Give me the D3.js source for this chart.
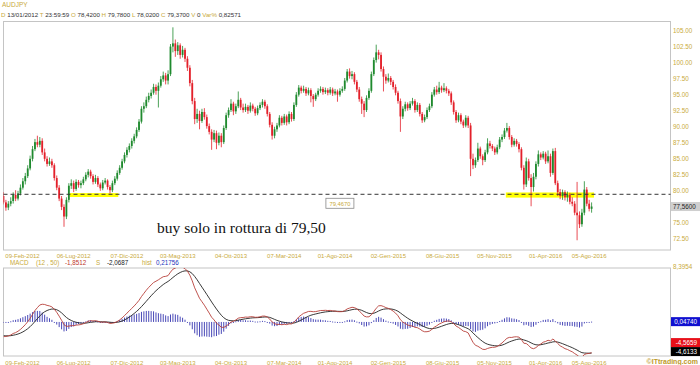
<!DOCTYPE html>
<html><head><meta charset="utf-8">
<script src="https://cdn.jsdelivr.net/npm/d3@7"></script>
<style>
body{margin:0;background:#fff}
svg{display:block}
text{font-family:"Liberation Sans",Arial,sans-serif}
</style>
</head><body>
<svg id="c" width="700" height="365"></svg>
<script>
// ---------- DATA (weekly AUDJPY candles) ----------
const firstWeek = "2011-12-16";
const open = [79.2,78.2,77.4,78.0,78.42,79.37,78.8,79.6,80.5,81.5,82.3,83.5,85.0,86.5,87.6,87.2,87.8,86.0,85.0,84.2,84.6,84.0,82.0,80.5,78.8,77.5,76.0,78.6,80.8,81.2,80.3,81.4,80.9,81.2,81.8,82.5,83.0,82.3,81.4,82.0,81.0,80.4,81.3,81.6,80.6,80.1,81.2,81.9,82.8,83.6,84.6,85.6,86.4,87.0,87.8,88.5,89.5,90.8,92.8,93.2,94.2,94.8,95.3,96.2,95.6,96.4,97.4,98.0,97.2,98.2,102.5,103.0,101.8,102.7,101.2,102.0,100.6,99.2,96.8,94.0,91.2,92.0,90.9,92.3,91.5,90.1,89.2,88.0,89.0,87.5,88.6,87.6,89.8,91.8,92.6,93.6,92.4,93.2,94.2,93.0,92.6,93.1,92.5,93.3,92.8,92.1,92.9,93.4,93.9,93.2,92.0,90.3,88.6,89.6,90.2,91.4,90.6,91.6,90.7,92.0,91.2,93.4,95.0,96.1,95.6,95.9,95.2,95.7,94.8,94.3,95.0,95.6,95.9,95.4,95.7,95.3,95.8,95.2,95.5,95.0,95.6,95.9,97.2,98.6,97.9,98.2,97.0,95.8,94.3,93.6,92.6,94.5,95.6,98.2,100.4,101.6,101.2,99.0,97.8,97.2,97.6,97.0,96.2,95.3,94.0,91.6,92.8,93.5,92.9,93.6,94.0,92.6,93.4,92.0,91.0,91.5,92.6,93.2,95.0,95.8,95.4,96.1,95.7,96.0,95.6,95.2,93.8,92.3,91.0,91.8,90.8,90.2,91.4,90.2,85.0,84.0,84.8,86.6,85.4,84.8,86.0,87.4,87.0,86.6,86.0,86.8,88.0,88.4,89.4,89.8,88.4,87.2,87.8,87.3,86.5,83.6,81.0,84.6,82.0,80.6,82.2,84.2,85.7,85.2,85.8,84.6,85.4,82.8,86.2,81.2,79.8,79.2,79.8,79.0,79.4,78.3,78.0,76.6,76.2,74.8,76.6,80.2,78.0,77.2];
const high = [79.8,78.6,78.4,79.0,79.78,80.1,80.0,81.0,82.0,82.8,84.0,85.5,87.0,88.1,88.6,88.4,88.2,86.6,85.4,85.2,85.0,84.3,82.4,80.9,79.2,77.9,79.0,81.2,81.8,81.6,81.8,81.7,81.6,82.2,82.9,83.4,83.3,82.6,82.5,82.3,81.3,81.7,82.0,81.8,80.9,81.6,82.3,83.2,84.0,85.0,86.0,86.8,87.4,88.2,88.9,89.9,91.2,93.2,93.8,94.7,95.3,95.8,96.7,96.6,96.9,97.9,98.6,98.4,98.8,102.9,105.5,103.6,103.2,103.0,102.6,102.3,101.0,99.6,97.3,94.5,92.8,92.5,92.8,92.9,91.9,90.5,89.6,89.5,89.4,89.1,89.0,90.2,92.2,93.0,94.3,93.9,93.6,95.5,94.5,93.6,93.6,93.4,93.8,93.6,93.1,93.3,93.8,94.3,94.2,93.5,92.3,90.7,90.0,90.6,91.8,91.7,92.0,91.9,92.4,92.3,93.8,95.4,96.5,96.4,96.4,96.2,96.1,96.0,95.1,95.3,96.0,96.3,96.2,96.1,96.0,96.2,96.1,95.9,95.8,96.0,96.3,97.6,99.0,99.1,98.7,98.5,97.3,96.2,94.7,94.0,94.9,96.0,98.6,100.8,102.8,102.0,101.6,99.4,98.2,98.3,97.9,97.3,96.6,95.6,94.4,93.2,93.9,93.8,94.0,94.5,94.3,93.8,93.7,92.3,91.9,93.0,93.6,95.4,96.2,96.4,97.0,96.4,96.8,96.3,95.9,95.5,94.1,92.6,92.2,92.1,91.1,91.8,91.7,90.6,85.8,85.2,87.5,86.9,85.7,86.4,88.2,87.8,87.3,86.9,87.2,88.4,88.8,89.8,90.6,90.1,88.7,88.2,88.1,87.6,86.8,84.0,85.2,85.0,82.6,82.8,84.6,86.3,86.0,86.2,86.1,86.3,85.8,86.6,86.7,81.6,80.3,80.2,80.1,79.9,79.7,79.0,78.4,81.4,76.8,77.2,81.5,80.6,78.6,78.2];
const low = [77.9,76.9,77.0,77.6,78.02,78.4,78.5,79.3,80.2,81.0,82.0,83.2,84.6,86.2,86.8,86.8,85.6,84.6,83.8,83.9,83.6,81.6,80.1,78.4,77.0,74.4,75.6,78.2,80.3,79.8,80.0,80.5,80.4,80.9,81.5,82.1,81.9,81.0,81.1,80.6,80.0,80.1,81.0,80.2,79.6,79.8,80.9,81.6,82.5,83.3,84.3,85.2,86.0,86.6,87.4,88.2,89.2,90.5,92.2,92.9,93.8,94.4,95.0,95.0,93.0,96.1,97.0,96.6,96.6,97.9,101.6,100.9,101.2,100.6,100.8,100.1,98.7,96.3,93.5,90.4,90.6,89.6,90.6,91.1,89.7,88.8,86.4,87.6,86.5,87.1,86.8,87.3,89.5,91.4,92.3,91.8,92.0,92.9,92.6,92.2,92.3,92.0,92.2,92.4,91.7,91.8,92.6,93.0,92.8,91.6,89.9,88.0,88.2,89.2,89.9,90.2,90.3,90.2,90.4,90.8,90.9,93.1,94.7,95.2,95.3,94.8,94.9,93.8,93.1,94.0,94.7,95.3,95.0,95.1,94.9,95.0,94.8,94.9,93.9,94.7,95.3,95.6,96.9,97.5,97.4,96.6,95.4,93.9,92.0,91.5,92.3,94.2,95.3,97.9,100.0,100.5,98.6,95.5,96.7,96.9,96.5,95.8,94.9,93.6,89.2,91.2,92.4,92.5,92.6,93.3,92.2,92.3,91.6,90.6,90.7,91.2,92.3,92.9,94.7,95.0,95.1,95.3,95.4,95.2,94.8,93.4,91.9,90.6,90.7,90.4,89.8,89.9,89.8,82.3,83.4,83.6,84.5,85.0,84.0,84.5,85.7,86.6,86.2,85.6,85.7,86.5,87.6,88.1,89.1,88.0,86.8,86.9,86.9,86.0,83.2,80.2,80.6,81.6,77.6,79.9,81.8,83.8,84.8,84.9,84.2,84.3,82.2,82.5,80.9,79.2,78.7,78.6,78.5,78.3,77.9,77.6,76.2,72.3,74.2,74.4,76.2,77.6,76.8,76.6];
const close = [78.2,77.4,78.0,78.4,79.37,78.8,79.6,80.5,81.5,82.3,83.5,85.0,86.5,87.6,87.2,87.8,86.0,85.0,84.2,84.6,84.0,82.0,80.5,78.8,77.5,76.0,78.6,80.8,81.2,80.3,81.4,80.9,81.2,81.8,82.5,83.0,82.3,81.4,82.0,81.0,80.4,81.3,81.6,80.6,80.1,81.2,81.9,82.8,83.6,84.6,85.6,86.4,87.0,87.8,88.5,89.5,90.8,92.8,93.2,94.2,94.8,95.3,96.2,95.6,96.4,97.4,98.0,97.2,98.2,102.5,103.0,101.8,102.7,101.2,102.0,100.6,99.2,96.8,94.0,91.2,92.0,90.9,92.3,91.5,90.1,89.2,88.0,89.0,87.5,88.6,87.6,89.8,91.8,92.6,93.6,92.4,93.2,94.2,93.0,92.6,93.1,92.5,93.3,92.8,92.1,92.9,93.4,93.9,93.2,92.0,90.3,88.6,89.6,90.2,91.4,90.6,91.6,90.7,92.0,91.2,93.4,95.0,96.1,95.6,95.9,95.2,95.7,94.8,94.3,95.0,95.6,95.9,95.4,95.7,95.3,95.8,95.2,95.5,95.0,95.6,95.9,97.2,98.6,97.9,98.2,97.0,95.8,94.3,93.6,92.6,94.5,95.6,98.2,100.4,101.6,101.2,99.0,97.8,97.2,97.6,97.0,96.2,95.3,94.0,91.6,92.8,93.5,92.9,93.6,94.0,92.6,93.4,92.0,91.0,91.5,92.6,93.2,95.0,95.8,95.4,96.1,95.7,96.0,95.6,95.2,93.8,92.3,91.0,91.8,90.8,90.2,91.4,90.2,85.0,84.0,84.8,86.6,85.4,84.8,86.0,87.4,87.0,86.6,86.0,86.8,88.0,88.4,89.4,89.8,88.4,87.2,87.8,87.3,86.5,83.6,81.0,84.6,82.0,80.6,82.2,84.2,85.7,85.2,85.8,84.6,85.4,82.8,86.2,81.2,79.8,79.2,79.8,79.0,79.4,78.3,78.0,76.6,76.2,74.8,76.6,80.2,78.0,77.2,77.56];

const xTickLabels = ["09-Feb-2012","06-Lug-2012","07-Dic-2012","03-Mag-2013","04-Ott-2013","07-Mar-2014","01-Ago-2014","02-Gen-2015","08-Giu-2015","05-Nov-2015","01-Apr-2016","05-Ago-2016"];
const yTicks = [72.5,75,80,82.5,85,87.5,90,92.5,95,97.5,100,102.5,105];
const priceDomain = [70.78, 106.41];
const supportLevel = 79.4670;
const supportLabel = "79,4670";
const lastPrice = 77.56;
const lastPriceLabel = "77,5600";
const zoneStart = ["2012-06-25","2015-12-08"];
const zoneEnd   = ["2012-11-12","2016-08-19"];
const zoneLow   = [79.05, 78.95];
const zoneHigh  = [79.65, 79.75];
const note = "buy solo in rottura di 79,50";
const noteDate = "2013-03-04";
const labelBoxDate = "2014-08-15";

const headerKeys = ["D","T","O","H","L","C","V","Var%"];
const headerVals = ["13/01/2012","23:59:59","78,4200","79,7800","78,0200","79,3700","0","0,82571"];

const macdPeriods = [12, 50, 9];
const macdSeeds = [78.0, 80.4, -2.1];   // EMA state before first visible week
const macdDomain = [-5.3, 8.3954];
const macdTopLabel = "8,3954";
const macdHeaderVals = ["-1,8512","-2,0687","0,21756"];
const macdLastVals = [-4.5659, -4.6133, 0.04740];
const macdLastLabels = ["-4,5659","-4,6133","0,04740"];

// ---------- LAYOUT ----------
const gold = "#c9aa3c";
const svg = d3.select("#c");
const P = {l:3.5, r:670.5, t:21.5, b:250};
const M = {t:268, b:356};

const parse = d3.timeParse("%Y-%m-%d");
const t0 = parse(firstWeek);
const dates = close.map((_,i)=> d3.timeDay.offset(t0, 7*i));
const x = d3.scaleTime().domain([t0, dates[dates.length-1]]).range([3.5, 591.6]);
const y = d3.scaleLinear().domain(priceDomain).range([P.b, P.t]);

const itMonths = {Gen:0,Feb:1,Mar:2,Apr:3,Mag:4,Giu:5,Lug:6,Ago:7,Set:8,Ott:9,Nov:10,Dic:11};
const tickDates = xTickLabels.map(s=>{const [d,m,yy]=s.split("-"); return new Date(+yy, itMonths[m], +d);});

const defs = svg.append("defs");
defs.append("clipPath").attr("id","cp").append("rect").attr("x",P.l).attr("y",P.t).attr("width",P.r-P.l).attr("height",P.b-P.t);
defs.append("clipPath").attr("id","cm").append("rect").attr("x",P.l).attr("y",M.t).attr("width",P.r-P.l).attr("height",M.b-M.t);

// header
svg.append("text").attr("x",2).attr("y",7).attr("font-size",6.5).attr("fill",gold).text("AUDJPY");
const hdr = svg.append("text").attr("x",1).attr("y",16.5).attr("font-size",6.2);
headerKeys.forEach((k,i)=>{
  hdr.append("tspan").attr("fill",gold).text((i?"  ":"")+k+" ");
  hdr.append("tspan").attr("fill","#333").text(headerVals[i]);
});

// main panel frame
svg.append("rect").attr("x",P.l).attr("y",P.t).attr("width",P.r-P.l).attr("height",P.b-P.t)
  .attr("fill","#fff").attr("stroke","#c4c4c4");

const gMain = svg.append("g").attr("clip-path","url(#cp)");
// zones
gMain.selectAll("rect.zone").data(zoneStart).join("rect")
  .attr("x",(d,i)=>x(parse(d))).attr("width",(d,i)=>x(parse(zoneEnd[i]))-x(parse(d)))
  .attr("y",(d,i)=>y(zoneHigh[i])).attr("height",(d,i)=>y(zoneLow[i])-y(zoneHigh[i]))
  .attr("fill","#ffff00");

// candles
const green="#1f8a2e", red="#e3202a";
const cd = close.map((c,i)=>({d:dates[i],o:open[i],h:high[i],l:low[i],c}));
const cg = gMain.selectAll("g.cdl").data(cd).join("g");
cg.append("line").attr("x1",d=>x(d.d)).attr("x2",d=>x(d.d)).attr("y1",d=>y(d.h)).attr("y2",d=>y(d.l))
  .attr("stroke",d=>d.c>=d.o?green:red).attr("stroke-width",0.8);
cg.append("rect").attr("x",d=>x(d.d)-0.9).attr("width",1.8)
  .attr("y",d=>y(Math.max(d.o,d.c))).attr("height",d=>Math.max(0.8,Math.abs(y(d.o)-y(d.c))))
  .attr("fill",d=>d.c>=d.o?green:red);

// support dashed line
svg.append("line").attr("x1",P.l).attr("x2",P.r).attr("y1",y(supportLevel)).attr("y2",y(supportLevel))
  .attr("stroke","#333").attr("stroke-dasharray","4,3").attr("stroke-width",1);

// label box
const bx = x(parse(labelBoxDate));
svg.append("rect").attr("x",bx-14).attr("y",y(supportLevel)+4).attr("width",28).attr("height",10)
  .attr("fill","#fff").attr("stroke","#888").attr("stroke-width",0.8);
svg.append("text").attr("x",bx).attr("y",y(supportLevel)+11.3).attr("text-anchor","middle")
  .attr("font-size",5.8).attr("fill",gold).text(supportLabel);

// note
svg.append("text").attr("x",x(parse(noteDate))).attr("y",233)
  .style("font-family","'Liberation Serif','Times New Roman',serif")
  .attr("font-size",15.5).attr("fill","#111").text(note);

// y axis labels
svg.selectAll("text.yl").data(yTicks).join("text").attr("x",673).attr("y",d=>y(d)+2.3)
  .attr("font-size",6.3).attr("fill",gold).text(d=>d.toFixed(2));
// last price box
svg.append("rect").attr("x",671).attr("y",y(lastPrice)-4.5).attr("width",29).attr("height",9).attr("fill","#cfcfcf");
svg.append("text").attr("x",673).attr("y",y(lastPrice)+2.3).attr("font-size",6.3).attr("fill","#222").text(lastPriceLabel);

// x labels
function xLabels(yy){
  svg.append("g").selectAll("text").data(tickDates).join("text")
    .attr("x",d=>x(d)).attr("y",yy).attr("text-anchor","middle").attr("font-size",6)
    .attr("fill",gold).text((d,i)=>xTickLabels[i]);
}
xLabels(258);
xLabels(364.5);

// ---------- MACD ----------
function ema(vals, p, seed){ const a=2/(p+1); let e=seed; return vals.map(v=> e = e + a*(v-e)); }
const eF = ema(close, macdPeriods[0], macdSeeds[0]);
const eS = ema(close, macdPeriods[1], macdSeeds[1]);
const macd = eF.map((v,i)=>v-eS[i]);
const signal = ema(macd, macdPeriods[2], macdSeeds[2]);
const hist = macd.map((v,i)=>v-signal[i]);

const ym = d3.scaleLinear().domain(macdDomain).range([M.b, M.t]);

const mh = svg.append("text").attr("y",265).attr("font-size",6.3);
mh.append("tspan").attr("x",10).attr("fill",gold).text("MACD");
mh.append("tspan").attr("x",36).attr("fill",gold).text("(12 , 50)");
mh.append("tspan").attr("x",65).attr("fill","#c0392b").text(macdHeaderVals[0]);
mh.append("tspan").attr("x",96).attr("fill",gold).text("S");
mh.append("tspan").attr("x",107).attr("fill","#222").text(macdHeaderVals[1]);
mh.append("tspan").attr("x",142).attr("fill",gold).text("hist");
mh.append("tspan").attr("x",156).attr("fill","#2233bb").text(macdHeaderVals[2]);

svg.append("rect").attr("x",P.l).attr("y",M.t).attr("width",P.r-P.l).attr("height",M.b-M.t)
  .attr("fill","#fff").attr("stroke","#c4c4c4");

const gM = svg.append("g").attr("clip-path","url(#cm)");
gM.selectAll("rect.h").data(hist).join("rect")
  .attr("x",(d,i)=>x(dates[i])-0.5).attr("width",1)
  .attr("y",d=>Math.min(ym(0),ym(d))).attr("height",d=>Math.max(1,Math.abs(ym(d)-ym(0))))
  .attr("fill","#4a4ab8");
const ln = d3.line().x((d,i)=>x(dates[i])).y(d=>ym(d));
gM.append("path").attr("d",ln(signal)).attr("fill","none").attr("stroke","#222").attr("stroke-width",0.9);
gM.append("path").attr("d",ln(macd)).attr("fill","none").attr("stroke","#b8403a").attr("stroke-width",0.9);

svg.append("text").attr("x",673).attr("y",ym(macdDomain[1])+0.5).attr("font-size",6.3).attr("fill",gold).text(macdTopLabel);

// last-value boxes
const yBlack = ym(macdLastVals[1]);
const yRed = Math.min(ym(macdLastVals[0]), yBlack-9);
const boxes = [
  {y:ym(macdLastVals[2]), fill:"#1010d0", text:macdLastLabels[2]},
  {y:yRed, fill:"#e8101a", text:macdLastLabels[0]},
  {y:yBlack, fill:"#000", text:macdLastLabels[1]}
];
boxes.forEach(b=>{
  svg.append("rect").attr("x",671).attr("y",b.y-4.5).attr("width",29).attr("height",9).attr("fill",b.fill);
  svg.append("text").attr("x",697).attr("y",b.y+2.3).attr("text-anchor","end").attr("font-size",6.3).attr("fill","#fff").text(b.text);
});

svg.append("text").attr("x",698).attr("y",364).attr("text-anchor","end").attr("font-size",7).attr("font-weight","bold")
  .attr("fill","#c09a2a").text("©ITtrading.com");
</script>
</body></html>
